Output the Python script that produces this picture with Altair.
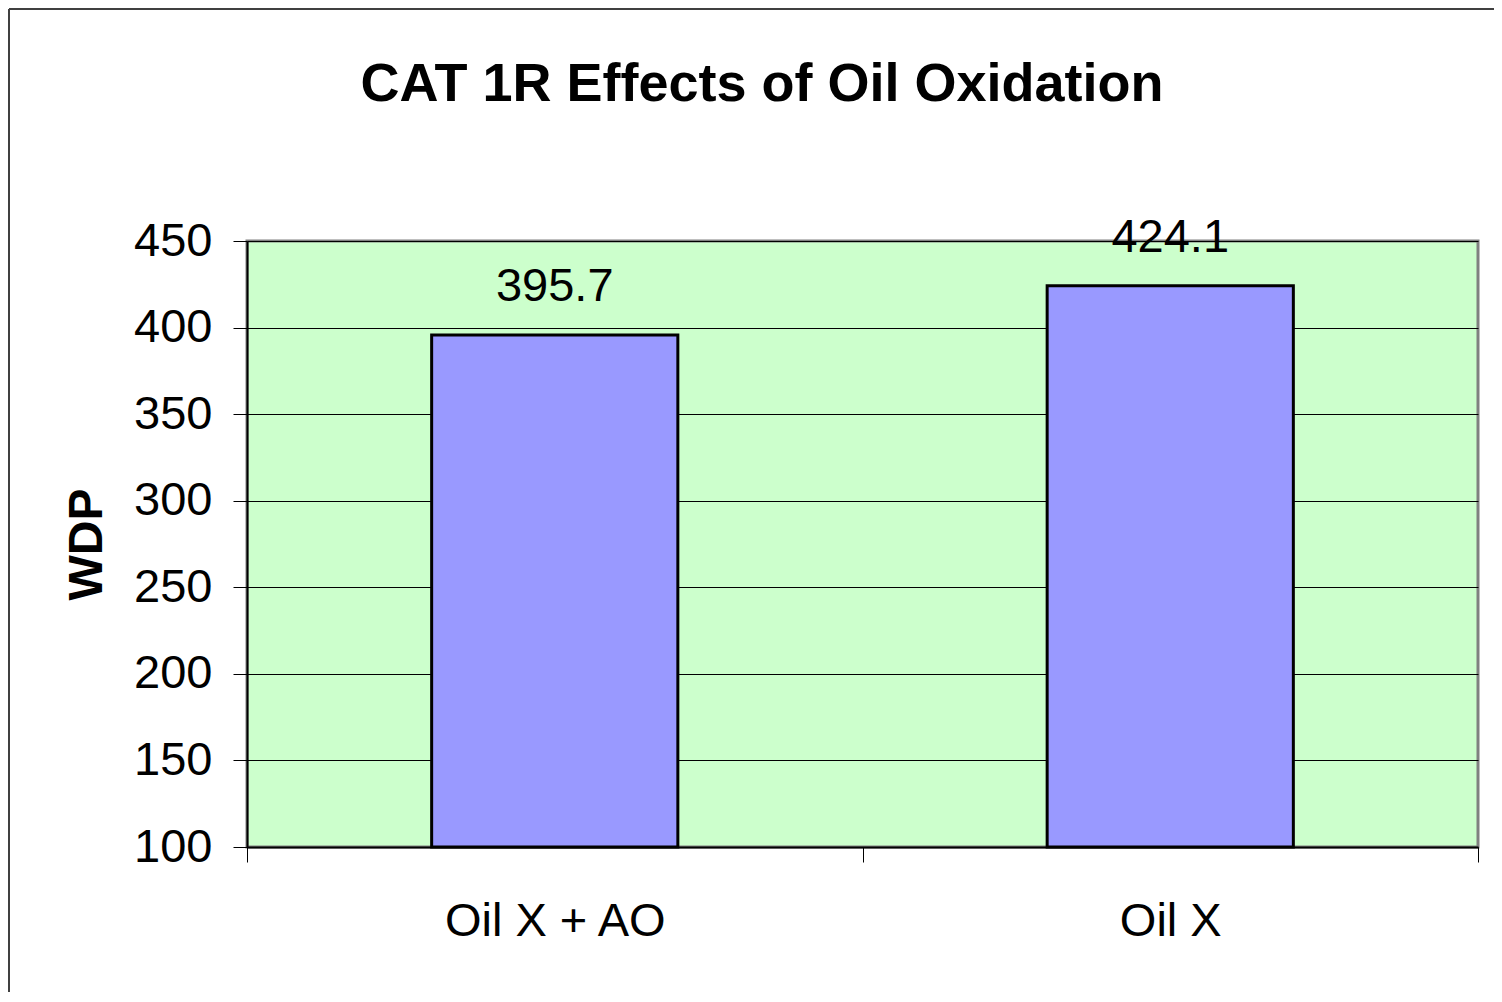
import altair as alt
import pandas as pd

categories = ["Oil X + AO", "Oil X"]
values = [395.7, 424.1]
y_ticks = [100, 150, 200, 250, 300, 350, 400, 450]
chart_title = "CAT 1R Effects of Oil Oxidation"
y_title = "WDP"

df = pd.DataFrame({"cat": categories, "val": values})
FONT = "Liberation Sans"

base = alt.Chart(df)

x_enc = alt.X(
    "cat:N",
    sort=None,
    scale=alt.Scale(paddingInner=0, paddingOuter=0),
    axis=alt.Axis(
        title=None,
        labelAngle=0,
        labelFont=FONT,
        labelFontSize=47,
        labelColor="black",
        labelPadding=36,
        labelBaseline="top",
        labelLimit=0,
        tickBand="extent",
        tickSize=15,
        tickColor="black",
        tickWidth=1,
        domainColor="black",
        domainWidth=2,
        grid=False,
    ),
)

y_enc = alt.Y(
    "val:Q",
    scale=alt.Scale(domain=[100, 450], nice=False, zero=False),
    axis=alt.Axis(
        values=y_ticks,
        title=y_title,
        titleFont=FONT,
        titleFontSize=48,
        titleFontWeight="bold",
        titleColor="black",
        titleAngle=-90,
        titleX=-160,
        titleY=303,
        titleAlign="center",
        titleBaseline="middle",
        labelFont=FONT,
        labelFontSize=47,
        labelColor="black",
        labelPadding=21,
        tickSize=14,
        tickColor="black",
        tickWidth=1,
        domainColor="black",
        domainWidth=2,
        grid=True,
        gridColor="black",
        gridWidth=1,
    ),
)

bars = base.mark_bar(
    fill="#9999FF", stroke="black", strokeWidth=3, width=alt.RelativeBandSize(0.4)
).encode(x=x_enc, y=y_enc, y2=alt.datum(100))

labels = base.mark_text(
    font=FONT, fontSize=47, baseline="alphabetic", dy=-34, color="black"
).encode(
    x=alt.X("cat:N", sort=None),
    y=alt.Y("val:Q"),
    text=alt.Text("val:Q", format=".1f"),
)

title_df = pd.DataFrame({"t": [chart_title]})
title = alt.Chart(title_df).mark_text(
    font=FONT, fontSize=54, fontWeight="bold", baseline="alphabetic", align="center", color="black"
).encode(x=alt.value(515), y=alt.value(-140), text="t:N")

frame_top = alt.Chart(title_df).mark_rule(color="#404040", strokeWidth=2).encode(
    x=alt.value(-238), x2=alt.value(1260), y=alt.value(-232)
)
frame_left = alt.Chart(title_df).mark_rule(color="#404040", strokeWidth=2).encode(
    x=alt.value(-238), y=alt.value(-232), y2=alt.value(760)
)

chart = (
    alt.layer(bars, labels, title, frame_top, frame_left)
    .properties(
        width=1231,
        height=606,
        autosize=alt.AutoSizeParams(type="none"),
        padding={"left": 239, "top": 233, "right": 16, "bottom": 145},
        background="white",
    )
    .configure_view(fill="#CCFFCC", stroke="#808080", strokeWidth=3)
)

chart.save("out.html", embed_options={"renderer": "svg", "actions": False})
